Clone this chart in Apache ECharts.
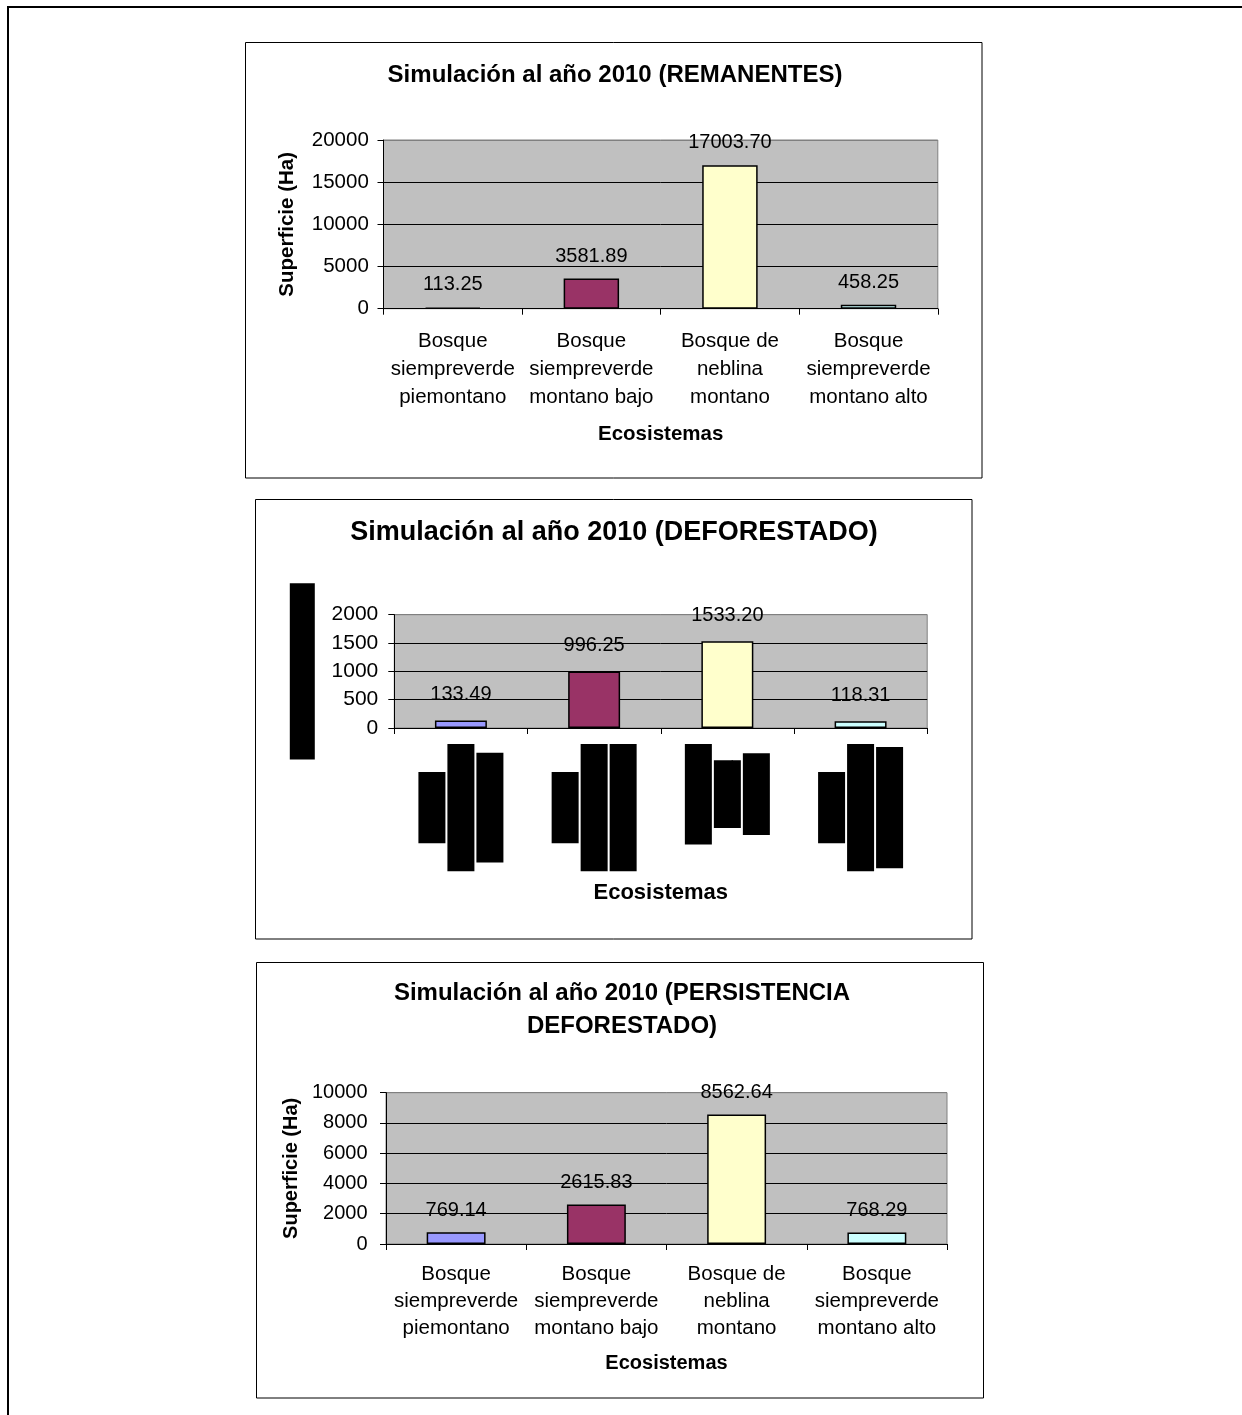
<!DOCTYPE html>
<html>
<head>
<meta charset="utf-8">
<title>Simulación al año 2010</title>
<script src="https://cdn.jsdelivr.net/npm/echarts@6.0.0/dist/echarts.min.js"></script>
<style>
  html, body { margin: 0; padding: 0; background: #fff; }
  #chart { width: 1242px; height: 1415px; }
</style>
</head>
<body>
<div id="chart"></div>
<script>
// datos
var ecosistemas = [
    'Bosque\nsiempreverde\npiemontano',
    'Bosque\nsiempreverde\nmontano bajo',
    'Bosque de\nneblina\nmontano',
    'Bosque\nsiempreverde\nmontano alto'
];
var remanentes = [113.25, 3581.89, 17003.70, 458.25];
var deforestado = [133.49, 996.25, 1533.20, 118.31];
var persistencia = [769.14, 2615.83, 8562.64, 768.29];
var barColors = ['#9999FF', '#993366', '#FFFFCC', '#CCFFFF'];

var titulos = [
    'Simulación al año 2010 (REMANENTES)',
    'Simulación al año 2010 (DEFORESTADO)',
    'Simulación al año 2010 (PERSISTENCIA\nDEFORESTADO)'
];
var ejeY = 'Superficie (Ha)';
var ejeX = 'Ecosistemas';
var maxY = [20000, 2000, 10000];
var pasoY = [5000, 500, 2000];

var FONT = 'Liberation Sans, Arial, sans-serif';

function splitColors(max, step) {
    var n = Math.round(max / step) + 1;
    var c = [];
    for (var i = 0; i < n; i++) c.push(i === n - 1 ? '#808080' : '#000');
    return c;
}

function makeData(vals) {
    return vals.map(function (v, i) {
        return { value: v, itemStyle: { color: barColors[i] } };
    });
}

var grids = [
    { left: 383.5, top: 140, width: 554.3, height: 168.7 },
    { left: 394.3, top: 614.7, width: 532.9, height: 113.3 },
    { left: 386, top: 1092.7, width: 561, height: 151.3 }
].map(function (g) {
    return Object.assign({
        show: true,
        backgroundColor: '#C0C0C0',
        borderColor: '#808080',
        borderWidth: 1,
        containLabel: false,
        outerBoundsMode: 'none'
    }, g);
});

function xAxisOf(idx, opts) {
    var ax = {
        type: 'category',
        gridIndex: idx,
        data: ecosistemas,
        name: ejeX,
        nameLocation: 'middle',
        nameGap: opts.nameGap,
        nameMoveOverlap: false,
        nameTextStyle: { fontFamily: FONT, fontSize: opts.nameSize, fontWeight: 'bold', color: '#000' },
        axisLine: { show: true, lineStyle: { color: '#000', width: 1 } },
        axisTick: { show: true, length: 6, lineStyle: { color: '#000' } },
        splitLine: { show: false },
        splitArea: { show: false },
        axisLabel: {
            interval: 0,
            margin: opts.margin,
            fontFamily: FONT,
            fontSize: 20.5,
            lineHeight: opts.lineHeight,
            color: '#000'
        }
    };
    return ax;
}

function yAxisOf(idx, opts) {
    return {
        type: 'value',
        gridIndex: idx,
        min: 0,
        max: maxY[idx],
        interval: pasoY[idx],
        name: ejeY,
        nameLocation: 'middle',
        nameGap: opts.nameGap,
        nameMoveOverlap: false,
        nameTextStyle: opts.nameStyle,
        axisLine: { show: true, lineStyle: { color: '#000', width: 1 } },
        axisTick: { show: true, length: 6, lineStyle: { color: '#000' } },
        axisLabel: {
            margin: opts.margin,
            fontFamily: FONT,
            fontSize: opts.labelSize,
            color: '#000',
            formatter: function (v) { return String(v); }
        },
        splitLine: { show: true, lineStyle: { color: splitColors(maxY[idx], pasoY[idx]), width: 1 } }
    };
}

function barSeries(idx, vals, opts) {
    return {
        type: 'bar',
        xAxisIndex: idx,
        yAxisIndex: idx,
        barWidth: opts.barWidth,
        data: makeData(vals),
        itemStyle: { borderColor: '#000', borderWidth: 1.5 },
        label: {
            show: true,
            position: 'top',
            distance: opts.distance,
            fontFamily: FONT,
            fontSize: 20,
            color: '#000',
            formatter: function (p) { return p.value.toFixed(2); }
        },
        emphasis: { disabled: true }
    };
}

// eje x del segundo grafico: etiquetas giradas que salen como bloques negros
var x2 = xAxisOf(1, { nameGap: 154, nameSize: 22, margin: 16, lineHeight: 29 });
x2.axisLabel = {
    interval: 0,
    rotate: 90,
    margin: 16,
    formatter: function (v) {
        return v.split('\n').map(function (l) { return '{b|' + l + '}'; }).join('\n');
    },
    rich: {
        b: {
            fontFamily: FONT,
            fontSize: 21,
            color: '#000',
            backgroundColor: '#000',
            padding: [3, 0, 3, 0],
            lineHeight: 29,
            align: 'center'
        }
    }
};

var titleBase = { textAlign: 'center', textVerticalAlign: 'top', padding: 0 };

var option = {
    backgroundColor: '#fff',
    animation: false,
    title: [
        Object.assign({ text: titulos[0], left: 615, top: 63,
            textStyle: { fontFamily: FONT, fontSize: 24, fontWeight: 'bold', color: '#000' } }, titleBase),
        Object.assign({ text: titulos[1], left: 614, top: 519,
            textStyle: { fontFamily: FONT, fontSize: 27, fontWeight: 'bold', color: '#000' } }, titleBase),
        Object.assign({ text: titulos[2], left: 622, top: 977,
            textStyle: { fontFamily: FONT, fontSize: 24, fontWeight: 'bold', color: '#000', lineHeight: 33 } }, titleBase)
    ],
    grid: grids,
    xAxis: [
        xAxisOf(0, { nameGap: 115, nameSize: 20.5, margin: 18.5, lineHeight: 28 }),
        x2,
        xAxisOf(2, { nameGap: 109, nameSize: 20, margin: 17, lineHeight: 27 })
    ],
    yAxis: [
        yAxisOf(0, { nameGap: 85.5, margin: 14.7, labelSize: 20.5,
            nameStyle: { fontFamily: FONT, fontSize: 20.5, fontWeight: 'bold', color: '#000' } }),
        yAxisOf(1, { nameGap: 79.5, margin: 16, labelSize: 21,
            nameStyle: { fontFamily: FONT, fontSize: 25, fontWeight: 'bold', color: '#000',
                backgroundColor: '#000', padding: 0 } }),
        yAxisOf(2, { nameGap: 85, margin: 18.4, labelSize: 20,
            nameStyle: { fontFamily: FONT, fontSize: 20, fontWeight: 'bold', color: '#000' } })
    ],
    series: [
        barSeries(0, remanentes, { barWidth: '40%', distance: 12.5 }),
        barSeries(1, deforestado, { barWidth: '39%', distance: 16 }),
        barSeries(2, persistencia, { barWidth: '42%', distance: 12 })
    ],
    graphic: [
        { type: 'polyline', silent: true, shape: { points: [[8, 1415], [8, 7], [1242, 7]] },
          style: { stroke: '#000', lineWidth: 2, fill: null } },
        { type: 'rect', silent: true, shape: { x: 245.5, y: 42.5, width: 736.5, height: 435.5 },
          style: { stroke: '#000', lineWidth: 1, fill: null } },
        { type: 'rect', silent: true, shape: { x: 255.5, y: 499.5, width: 716.5, height: 439.5 },
          style: { stroke: '#000', lineWidth: 1, fill: null } },
        { type: 'rect', silent: true, shape: { x: 256.5, y: 962.5, width: 727, height: 435.5 },
          style: { stroke: '#000', lineWidth: 1, fill: null } }
    ]
};

var chart = echarts.init(document.getElementById('chart'), null, { renderer: 'canvas' });
chart.setOption(option);
</script>
</body>
</html>
